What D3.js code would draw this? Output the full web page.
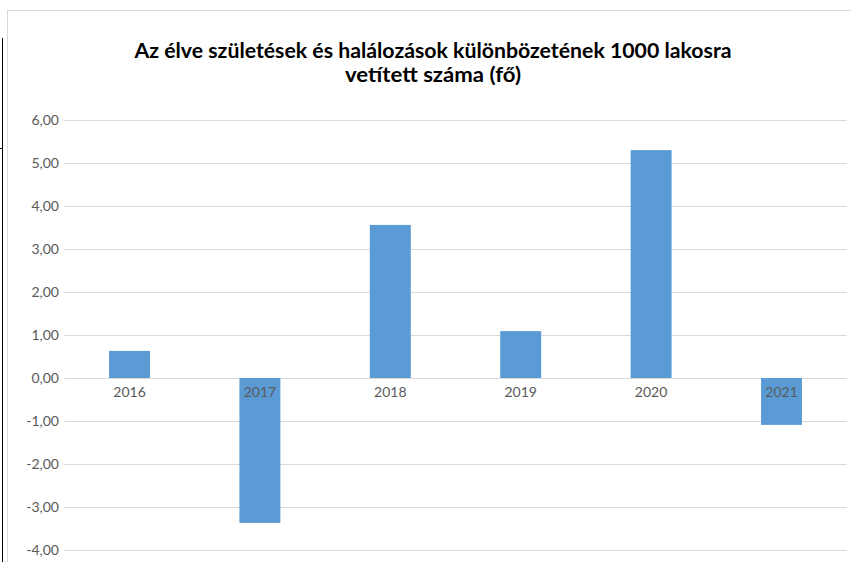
<!DOCTYPE html>
<html>
<head>
<meta charset="utf-8">
<style>
body { margin: 0; background: #fff; }
.tick text { font-family: Lato, "Noto Sans", sans-serif; fill: #595959; }
.title { font-family: Lato, "Noto Sans", sans-serif; font-weight: bold; fill: #000; }
</style>
</head>
<body>
<div id="chart"></div>
<script src="https://d3js.org/d3.v7.min.js"></script>
<script>
// data
var years = ["2016", "2017", "2018", "2019", "2020", "2021"];
var values = [0.63, -3.37, 3.56, 1.09, 5.30, -1.09];
var yTicks = [-4, -3, -2, -1, 0, 1, 2, 3, 4, 5, 6];
var titleLines = ["Az élve születések és halálozások különbözetének 1000 lakosra", "vetített száma (fő)"];
var titleWidths = [597, 176];

var W = 851, H = 562;

var svg = d3.select("#chart").append("svg")
  .attr("width", W).attr("height", H);

// outer page frame bits
svg.append("line").attr("x1", 2.5).attr("x2", 2.5).attr("y1", 38).attr("y2", H)
  .attr("stroke", "#000").attr("stroke-width", 1);
svg.append("line").attr("x1", 0).attr("x2", 3).attr("y1", 148.5).attr("y2", 148.5)
  .attr("stroke", "#000").attr("stroke-width", 1);

// chart area border
svg.append("rect").attr("x", 7.5).attr("y", 10.5).attr("width", W).attr("height", H)
  .attr("fill", "#fff").attr("stroke", "#d9d9d9").attr("stroke-width", 1);

var x = d3.scaleBand().domain(years).range([64.3, 846.7]).paddingInner(0.686).paddingOuter(0.343);
var y = d3.scaleLinear().domain([-4, 6]).range([550, 120]);

// gridlines
svg.append("g").selectAll("line").data(yTicks).enter().append("line")
  .attr("x1", 64.3).attr("x2", 846.7)
  .attr("y1", function(d) { return Math.round(y(d)) + 0.5; })
  .attr("y2", function(d) { return Math.round(y(d)) + 0.5; })
  .attr("stroke", "#d9d9d9").attr("stroke-width", 1);

// y axis labels
var yAxis = svg.append("g")
  .attr("transform", "translate(59,0)")
  .call(d3.axisLeft(y).tickValues(yTicks).tickSize(0).tickPadding(0)
    .tickFormat(function(d) { return d3.format(".2f")(d).replace(".", ",").replace("−", "-"); }));
yAxis.select(".domain").remove();
yAxis.selectAll("text").style("font-size", "14px");

// bars
svg.append("g").selectAll("rect").data(values).enter().append("rect")
  .attr("x", function(d, i) { return x(years[i]); })
  .attr("y", function(d) { return y(Math.max(0, d)); })
  .attr("width", x.bandwidth())
  .attr("height", function(d) { return Math.abs(y(d) - y(0)); })
  .attr("fill", "#5b9bd5");

// x axis labels at zero line
var xAxis = svg.append("g")
  .attr("transform", "translate(0," + y(0) + ")")
  .call(d3.axisBottom(x).tickSize(0).tickPadding(9));
xAxis.select(".domain").remove();
xAxis.selectAll("text").style("font-size", "14px");

// title
svg.append("g").selectAll("text").data(titleLines).enter().append("text")
  .attr("class", "title")
  .attr("x", 433).attr("y", function(d, i) { return 58 + i * 24; })
  .attr("text-anchor", "middle")
  .attr("textLength", function(d, i) { return titleWidths[i]; })
  .attr("lengthAdjust", "spacingAndGlyphs")
  .style("font-size", "20px")
  .text(function(d) { return d; });
</script>
</body>
</html>
